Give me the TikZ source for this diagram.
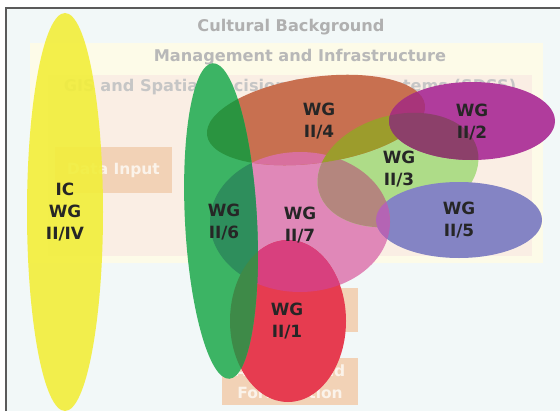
\documentclass[tikz,border=0pt]{standalone}
\usepackage{fontspec}
\setmainfont{DejaVu Sans}

% colours of the layers
\definecolor{bgblue}{HTML}{F2F8F8}
\definecolor{framegray}{HTML}{5A5A5A}
\definecolor{mgmtcream}{HTML}{FDFBE8}
\definecolor{gispeach}{HTML}{FAEEE4}
\definecolor{boxpeach}{HTML}{F2D2B6}
\definecolor{boxtext}{HTML}{FBF3EA}
\definecolor{titleA}{HTML}{B0B0B0}
\definecolor{titleB}{HTML}{B8B8B8}
\definecolor{titleC}{HTML}{C6C6C6}
\definecolor{labeldark}{HTML}{262626}
% colours of the working groups
\definecolor{wgyellow}{HTML}{F2EE3A}
\definecolor{wggreen}{HTML}{3CB464}
\definecolor{wgbrown}{HTML}{C87050}
\definecolor{wgmagenta}{HTML}{B03C9C}
\definecolor{wglime}{HTML}{AEDC88}
\definecolor{wglavender}{HTML}{8484C4}
\definecolor{wgpink}{HTML}{E088B8}
\definecolor{wgred}{HTML}{E63C50}
% colours where two groups overlap
\definecolor{ovfs}{HTML}{D8709E}
\definecolor{ovts}{HTML}{B4867E}
\definecolor{ovos}{HTML}{D8407E}
\definecolor{ovtf}{HTML}{9C9C2C}
\definecolor{ovtwf}{HTML}{A8347A}
\definecolor{ovtwt}{HTML}{8C406A}
\definecolor{ovfivs}{HTML}{B464B4}
\definecolor{ovss}{HTML}{2E8E5C}
\definecolor{ovsf}{HTML}{2A9440}
\definecolor{ovso}{HTML}{3E8A48}

% outlines of the working groups
\newcommand{\wgone}{(288,321) ellipse [x radius=58, y radius=81]}
\newcommand{\wgtwo}{(472,121) ellipse [x radius=83, y radius=39]}
\newcommand{\wgthree}{[rotate around={15:(398,170)}] (398,170) ellipse [x radius=82, y radius=55]}
\newcommand{\wgfour}{[rotate around={8:(316,120)}] (316,120) ellipse [x radius=110, y radius=43]}
\newcommand{\wgfive}{(459,220) ellipse [x radius=83, y radius=38]}
\newcommand{\wgsix}{[rotate around={3:(221,221)}] (221,221) ellipse [x radius=36, y radius=158]}
\newcommand{\wgseven}{(300,222) ellipse [x radius=90, y radius=70]}

\tikzset{
  layertext/.style={text=#1, font=\bfseries\fontsize{23}{26}\selectfont},
  stagebox/.style={fill=boxpeach, text=boxtext, align=center, inner sep=0pt,
    font=\bfseries\fontsize{22}{31}\selectfont},
  wglabel/.style={align=center, text=labeldark, font=\bfseries\fontsize{24}{31}\selectfont},
}

\begin{document}
\begin{tikzpicture}[x=0.05cm, y=-0.05cm]
  \useasboundingbox (0,0) rectangle (560,411);

  % Frame and the nested layers
  \fill[white] (0,0) rectangle (560,411);
  \fill[bgblue] (6,8) rectangle (560,411);
  \draw[framegray, line width=2pt] (6,411) -- (6,8) -- (560,8);
  \fill[mgmtcream] (30,43) rectangle (543,263);
  \fill[gispeach] (48,75) rectangle (532,256);

  % Layer titles
  \node[layertext=titleA] (cult) at (291,27) {Cultural Background};
  \node[layertext=titleB] (mgmt) at (300,57) {Management and Infrastructure};
  \node[layertext=titleC] (gis) at (290,87) {GIS and Spatial Decision Support Systems (SDSS)};

  % Stage boxes behind the groups
  \node[stagebox, minimum width=5.85cm, minimum height=2.3cm] (datain) at (113.5,170) {Data Input};
  \node[stagebox, minimum width=6.8cm, minimum height=2.2cm] (stage) at (290,310) {};
  \node[stagebox, minimum width=6.8cm, minimum height=2.35cm] (anaform) at (290,381.5) {Analysis and\\Formulation};

  % Working groups
  \foreach \p/\c in {\wgseven/wgpink, \wgone/wgred, \wgthree/wglime, \wgfour/wgbrown,
                     \wgtwo/wgmagenta, \wgfive/wglavender, \wgsix/wggreen}
    \fill[\c] \p;

  % Overlaps of the groups
  \foreach \p/\q/\c in {\wgfour/\wgseven/ovfs, \wgthree/\wgseven/ovts, \wgone/\wgseven/ovos,
                        \wgthree/\wgfour/ovtf, \wgtwo/\wgfour/ovtwf, \wgtwo/\wgthree/ovtwt,
                        \wgfive/\wgseven/ovfivs, \wgsix/\wgseven/ovss, \wgsix/\wgfour/ovsf,
                        \wgsix/\wgone/ovso}
  {
    \begin{scope}
      \clip \p;
      \fill[\c] \q;
    \end{scope}
  }

  % Inter-commission group
  \fill[wgyellow, fill opacity=0.9] (65,212) ellipse [x radius=38, y radius=199];

  % Labels
  \node[wglabel] (icwg) at (65,212) {IC\\WG\\II/IV};
  \node[wglabel] (l6) at (224,222) {WG\\II/6};
  \node[wglabel] (l7) at (300,225) {WG\\II/7};
  \node[wglabel] (l4) at (319,121) {WG\\II/4};
  \node[wglabel] (l2) at (472,122) {WG\\II/2};
  \node[wglabel] (l3) at (399,169) {WG\\II/3};
  \node[wglabel] (l5) at (459,220) {WG\\II/5};
  \node[wglabel] (l1) at (287,321) {WG\\II/1};
\end{tikzpicture}
\end{document}
